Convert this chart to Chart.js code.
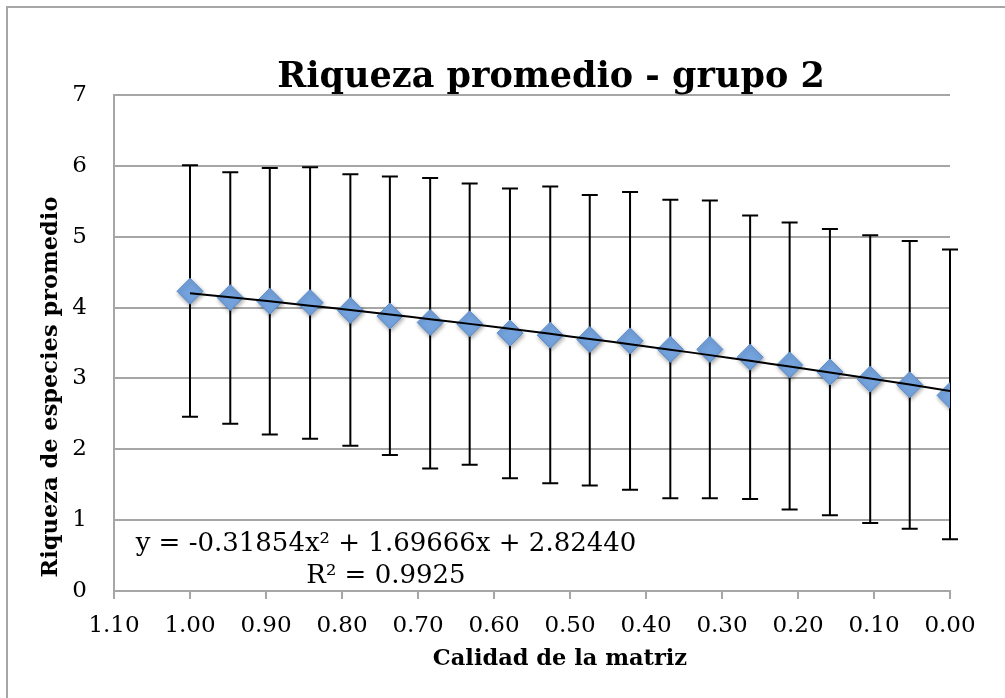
<!DOCTYPE html>
<html>
<head>
<meta charset="utf-8">
<script src="https://cdn.jsdelivr.net/npm/chart.js@4/dist/chart.umd.min.js"></script>
<style>
  html, body { margin: 0; padding: 0; background: #fff; }
  #wrap { width: 1005px; height: 698px; position: relative; }
</style>
</head>
<body>
<div id="wrap"><canvas id="chart" width="1005" height="698"></canvas></div>
<script>
// calidad de la matriz (20 niveles, de 1 a 0)
const calidad = [1.000, 0.947, 0.895, 0.842, 0.789, 0.737, 0.684, 0.632, 0.579, 0.526,
                 0.474, 0.421, 0.368, 0.316, 0.263, 0.211, 0.158, 0.105, 0.053, 0.000];
const riqueza = [4.23, 4.14, 4.09, 4.07, 3.96, 3.88, 3.79, 3.77, 3.64, 3.61,
                 3.55, 3.53, 3.41, 3.41, 3.30, 3.19, 3.09, 2.99, 2.91, 2.76];
const errorSup = [6.01, 5.91, 5.97, 5.98, 5.88, 5.85, 5.83, 5.75, 5.68, 5.71,
                  5.59, 5.63, 5.52, 5.51, 5.30, 5.20, 5.11, 5.02, 4.94, 4.82];
const errorInf = [2.46, 2.36, 2.21, 2.15, 2.05, 1.92, 1.73, 1.78, 1.59, 1.52,
                  1.49, 1.43, 1.31, 1.31, 1.30, 1.15, 1.07, 0.96, 0.88, 0.73];
// linea de tendencia polinomica (valores en cada nivel)
const tendencia = [4.203, 4.146, 4.088, 4.027, 3.965, 3.902, 3.836, 3.770, 3.700, 3.629,
                   3.557, 3.482, 3.406, 3.329, 3.249, 3.168, 3.085, 2.999, 2.913, 2.824];
const xTicks = [1.1, 1.0, 0.9, 0.8, 0.7, 0.6, 0.5, 0.4, 0.3, 0.2, 0.1, 0.0];
const yTicks = [0, 1, 2, 3, 4, 5, 6, 7];

const titulo = 'Riqueza promedio - grupo 2';
const tituloX = 'Calidad de la matriz';
const tituloY = 'Riqueza de especies promedio';
const ecuacion = ['y = -0.31854x\u00b2 + 1.69666x + 2.82440', 'R\u00b2 = 0.9925'];

const serif = '"DejaVu Serif", "Liberation Serif", serif';
const gris = '#a6a6a6';

const puntos = calidad.map((x, i) => ({ x: x, y: riqueza[i] }));
const lineaTend = calidad.map((x, i) => ({ x: x, y: tendencia[i] }));

// barras de error, dibujadas antes de los marcadores
const errorBars = {
  id: 'errorBars',
  beforeDatasetsDraw(chart) {
    const ctx = chart.ctx;
    const xs = chart.scales.x, ys = chart.scales.y;
    ctx.save();
    ctx.strokeStyle = '#000';
    ctx.lineWidth = 2;
    calidad.forEach((v, i) => {
      const px = xs.getPixelForValue(v);
      const top = ys.getPixelForValue(errorSup[i]);
      const bot = ys.getPixelForValue(errorInf[i]);
      ctx.beginPath();
      ctx.moveTo(px, top); ctx.lineTo(px, bot);
      ctx.moveTo(px - 8, top); ctx.lineTo(px + 8, top);
      ctx.moveTo(px - 8, bot); ctx.lineTo(px + 8, bot);
      ctx.stroke();
    });
    ctx.restore();
  },
  // sombra suave bajo los rombos
  beforeDatasetDraw(chart, args) {
    if (args.index !== 1) return;
    const ctx = chart.ctx;
    ctx.save();
    ctx.shadowColor = 'rgba(0,0,0,0.35)';
    ctx.shadowBlur = 4;
    ctx.shadowOffsetX = 1;
    ctx.shadowOffsetY = 2;
  },
  afterDatasetDraw(chart, args) {
    if (args.index !== 1) return;
    chart.ctx.restore();
  }
};

// marco, titulos y ecuacion
const textos = {
  id: 'textos',
  beforeDraw(chart) {
    const ctx = chart.ctx;
    ctx.save();
    ctx.strokeStyle = gris;
    ctx.lineWidth = 2;
    ctx.beginPath();
    ctx.moveTo(7, 698); ctx.lineTo(7, 7); ctx.lineTo(1005, 7);
    ctx.stroke();
    ctx.restore();
  },
  afterDraw(chart) {
    const ctx = chart.ctx;
    const a = chart.chartArea;
    ctx.save();
    ctx.fillStyle = '#000';
    ctx.textAlign = 'center';
    ctx.textBaseline = 'alphabetic';
    ctx.font = 'bold 35px ' + serif;
    ctx.fillText(titulo, a.left + 437, a.top - 8);
    ctx.font = 'bold 22.5px ' + serif;
    ctx.fillText(tituloX, a.left + 446, 665);
    ctx.save();
    ctx.translate(57, 387);
    ctx.rotate(-Math.PI / 2);
    ctx.fillText(tituloY, 0, 0);
    ctx.restore();
    ctx.font = '26px ' + serif;
    ctx.fillText(ecuacion[0], 386, 551);
    ctx.fillText(ecuacion[1], 386, 583);
    ctx.restore();
  }
};

new Chart(document.getElementById('chart'), {
  type: 'scatter',
  data: {
    datasets: [
      {
        label: 'Tendencia',
        type: 'line',
        data: lineaTend,
        borderColor: '#000',
        borderWidth: 2,
        pointRadius: 0,
        fill: false,
        tension: 0.4,
        order: 0
      },
      {
        label: 'Riqueza',
        data: puntos,
        pointStyle: 'rectRot',
        pointRadius: 13,
        pointHoverRadius: 13,
        backgroundColor: '#74a2dd',
        borderColor: '#5a8ccc',
        borderWidth: 1,
        order: 1
      }
    ]
  },
  options: {
    responsive: false,
    animation: false,
    events: [],
    layout: { padding: { left: 0, top: 95, right: 55, bottom: 47 } },
    plugins: {
      legend: { display: false },
      title: { display: false },
      tooltip: { enabled: false }
    },
    scales: {
      x: {
        type: 'linear',
        reverse: true,
        min: 0,
        max: 1.1,
        afterFit(s) { s.height = 60; },
        afterBuildTicks(s) { s.ticks = xTicks.map(v => ({ value: v })); },
        grid: { display: true, drawOnChartArea: false, drawTicks: true, tickLength: 8, color: gris, lineWidth: 2 },
        border: { display: true, color: gris, width: 2 },
        ticks: {
          color: '#000',
          padding: 13,
          maxRotation: 0,
          font: { family: serif, size: 23 },
          callback: v => Number(v).toFixed(2)
        }
      },
      y: {
        type: 'linear',
        min: 0,
        max: 7,
        afterFit(s) { s.width = 114; },
        afterBuildTicks(s) { s.ticks = yTicks.map(v => ({ value: v })); },
        grid: { color: gris, lineWidth: 2, drawTicks: false },
        border: { display: true, color: gris, width: 2 },
        ticks: {
          color: '#000',
          padding: 27,
          font: { family: serif, size: 23 }
        }
      }
    }
  },
  plugins: [errorBars, textos]
});
</script>
</body>
</html>
